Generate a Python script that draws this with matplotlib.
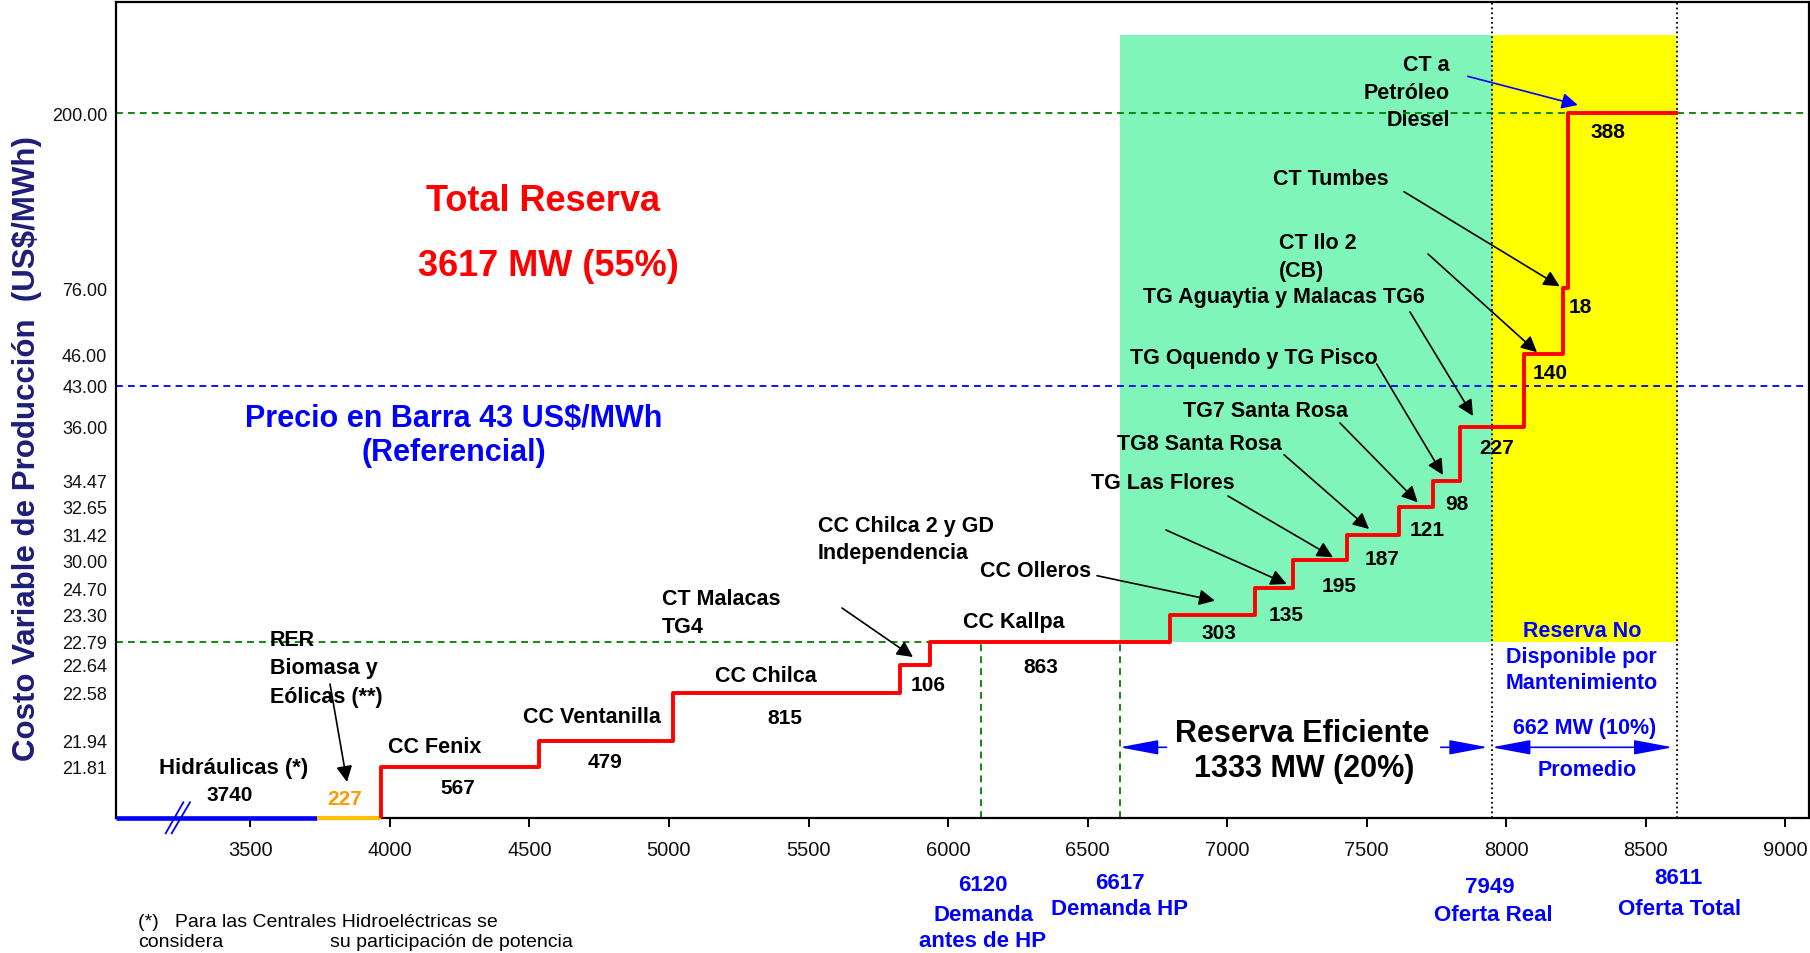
import numpy as np
import matplotlib.pyplot as plt
from matplotlib.lines import Line2D

plt.rcParams['font.family'] = ['Liberation Sans', 'DejaVu Sans']

# ---- data ----
hydro_mw = 3740
rer_mw = 227
plants = ['CC Fenix', 'CC Ventanilla', 'CC Chilca', 'CT Malacas TG4', 'CC Kallpa',
          'CC Olleros', 'CC Chilca 2 y GD Independencia', 'TG Las Flores',
          'TG8 Santa Rosa', 'TG7 Santa Rosa', 'TG Oquendo y TG Pisco',
          'TG Aguaytia y Malacas TG6', 'CT Ilo 2 (CB)', 'CT Tumbes',
          'CT a Petróleo Diesel']
capacity = [567, 479, 815, 106, 863, 303, 135, 195, 187, 121, 98, 227, 140, 18, 388]
cost = [21.81, 21.94, 22.58, 22.64, 22.79, 23.30, 24.70, 30.00, 31.42, 32.65,
        34.47, 36.00, 46.00, 76.00, 200.00]
price_bar = 43.00
demand_before_hp = 6120
demand_hp = 6617
real_supply = 7949
total_supply = 8611
ytick_vals = [200.00, 76.00, 46.00, 43.00, 36.00, 34.47, 32.65, 31.42, 30.00,
              24.70, 23.30, 22.79, 22.64, 22.58, 21.94, 21.81]
xticks = np.arange(3500, 9001, 500)

# ---- custom (non-linear) cost axis, as in the original chart ----
scale_vals = [0, 21.81, 21.94, 22.58, 22.64, 22.79, 23.30, 24.70, 30.00, 31.42,
              32.65, 34.47, 36.00, 43.00, 46.00, 76.00, 200.00, 260, 300]
scale_pos = [0, 51.5, 77.3, 125.5, 153.3, 176.5, 203.5, 230, 258, 283.5,
             311.3, 337.3, 391.3, 432.3, 464, 529.7, 704.7, 783, 816]
region_top = 260
xmin, xmax = 3017, 9084

W, H = 1810, 954
fig = plt.figure(figsize=(W / 100, H / 100), dpi=100)
ax = fig.add_axes([115.7 / W, (H - 819) / H, (1808.5 - 115.7) / W, 816 / H])

fwd = lambda v: np.interp(v, scale_vals, scale_pos)
inv = lambda p: np.interp(p, scale_pos, scale_vals)
ax.set_yscale('function', functions=(fwd, inv))
ax.set_xlim(xmin, xmax)
ax.set_ylim(0, 300)

# reserve regions
ax.fill_between([demand_hp, real_supply], cost[4], region_top, color='#80F5B9', lw=0, zorder=1)
ax.fill_between([real_supply, total_supply], cost[4], region_top, color='#FFFF00', lw=0, zorder=1)

dash = (0, (3.8, 2.8))
ax.axhline(cost[-1], color='#008000', ls=dash, lw=1.3, zorder=2)
ax.axhline(price_bar, color='#0000FF', ls=dash, lw=1.3, zorder=2)
ax.hlines(cost[4], xmin, demand_before_hp + 40, color='#008000', ls=dash, lw=1.3, zorder=2)
ax.vlines([demand_before_hp, demand_hp], 0, cost[4], color='#008000', ls=dash, lw=1.3, zorder=2)
ax.axvline(real_supply, color='black', ls=':', lw=1.3, zorder=3)
ax.axvline(total_supply, color='black', ls=':', lw=1.3, zorder=3)

# supply curve
start = hydro_mw + rer_mw
starts = start + np.concatenate([[0], np.cumsum(capacity)[:-1]])
end = start + sum(capacity)
x_step = np.concatenate([[start], starts, [end]])
y_step = np.concatenate([[0], cost, [cost[-1]]])
ax.plot([max(0, xmin), hydro_mw], [0, 0], color='#0000FF', lw=3.3, clip_on=False, zorder=6,
        solid_capstyle='butt')
ax.plot([hydro_mw, start], [0, 0], color='#FFC000', lw=3, clip_on=False, zorder=6,
        solid_capstyle='butt')
ax.plot(x_step, y_step, drawstyle='steps-post', color='#FF0000', lw=2.8, zorder=7)

# axes styling
for s in ax.spines.values():
    s.set_linewidth(1.6)
ax.set_xticks(xticks)
ax.set_xticklabels([str(v) for v in xticks])
ax.tick_params(axis='x', direction='out', length=6.5, width=1.4, pad=9.5, labelsize=14.5,
               labelcolor='#111111')
ax.set_yticks(ytick_vals)
ax.set_yticklabels(['%.2f' % v for v in ytick_vals])
ax.yaxis.set_minor_locator(plt.NullLocator())
ax.tick_params(axis='y', length=0, pad=6, labelsize=13, labelcolor='#111111')

fig.text(27.5 / W, 1 - 449 / H, 'Costo Variable de Producción  (US$/MWh)', rotation=90,
         ha='center', va='center', fontsize=22.5, fontweight='bold', color='#1E1E78')


def put(x, y, s, size=15.5, color='black', ha='center', weight='bold'):
    em = size * 100 / 72
    fig.text(x / W, 1 - (y + 0.358 * em) / H, s, fontsize=size, color=color, ha=ha,
             va='baseline', fontweight=weight)


def arrow(p0, p1, color='black', style='-|>', lw=1.2, ms=16, hl=0.6, hw=0.3):
    ax.annotate('', xy=(p1[0], H - p1[1]), xytext=(p0[0], H - p0[1]),
                xycoords='figure pixels', textcoords='figure pixels',
                arrowprops=dict(arrowstyle='%s,head_length=%s,head_width=%s' % (style, hl, hw),
                                color=color, lw=lw, mutation_scale=ms, shrinkA=0, shrinkB=0))


# plant names and capacities
put(233.5, 765.7, 'Hidráulicas (*)', 16)
put(230, 794, str(hydro_mw), 15)
put(345, 798, str(rer_mw), 15, color='#FF9900')
for i, line in enumerate(['RER', 'Biomasa y', 'Eólicas (**)']):
    put(270, 638 + i * 28.5, line, 15.5, ha='left')
put(388, 745.7, 'CC Fenix', ha='left')
put(591.5, 715, 'CC Ventanilla')
put(766, 674, 'CC Chilca')
put(662, 597, 'CT Malacas', ha='left')
put(662, 625.7, 'TG4', ha='left')
put(818, 524, 'CC Chilca 2 y GD', ha='left')
put(818, 551.7, 'Independencia', ha='left')
put(980, 569, 'CC Olleros', ha='left')
put(1014, 620, 'CC Kallpa')
put(1235, 481, 'TG Las Flores', ha='right')
put(1199, 442.7, 'TG8 Santa Rosa')
put(1265, 409.3, 'TG7 Santa Rosa')
put(1254, 356, 'TG Oquendo y TG Pisco')
put(1284, 295.7, 'TG Aguaytia y Malacas TG6')
put(1279, 241.7, 'CT Ilo 2', ha='left')
put(1279, 269.3, '(CB)', ha='left')
put(1331, 177.7, 'CT Tumbes')
for i, line in enumerate(['CT a', 'Petróleo', 'Diesel']):
    put(1450, 63.3 + i * 27.5, line, ha='right')

cap_pos = [(458, 786.7), (605, 761), (785, 716.7), (928.6, 684), (1040.6, 665.7),
           (1219, 631.7), (1286, 613.3), (1339, 584.3), (1381.7, 557.3), (1426.7, 529),
           (1456.7, 502.3), (1496.7, 446.7), (1550, 371.7), (1580, 306), (1608, 130.7)]
for (px, py), c in zip(cap_pos, capacity):
    put(px, py, str(c), 15)

# arrows to steps
arrow((330, 685), (347, 783))
arrow((842, 609), (913, 658))
arrow((1097, 576.7), (1215, 601.7))
arrow((1166, 531), (1286.7, 585))
arrow((1228, 497), (1333, 558.3))
arrow((1284, 455.7), (1369, 530))
arrow((1340, 424), (1417.7, 503.3))
arrow((1376.7, 365), (1443, 476))
arrow((1410, 313), (1473, 417))
arrow((1428, 255), (1537, 353.3))
arrow((1404, 192.7), (1559.7, 287.3))
arrow((1467.7, 77.3), (1577.8, 106), color='#0000FF')

# big annotations
put(543, 198, 'Total Reserva', 26, color='#FF0000')
put(548, 263, '3617 MW (55%)', 26, color='#FF0000')
put(454, 416, 'Precio en Barra 43 US$/MWh', 22, color='#0000FF')
put(454, 450, '(Referencial)', 22, color='#0000FF')
put(1302.5, 730.7, 'Reserva Eficiente', 22)
put(1304, 766, '1333 MW (20%)', 22)
for i, line in enumerate(['Reserva No', 'Disponible por', 'Mantenimiento']):
    put(1581.7, 629.3 + i * 26.2, line, 15.5, color='#0000FF')
put(1585, 726.7, '662 MW (10%)', 15.5, color='#0000FF')
put(1586.7, 768.3, 'Promedio', 15.5, color='#0000FF')
arrow((1166.5, 748.3), (1119.6, 748.3), color='#0000FF', ms=10, hl=2.4, hw=0.45)
arrow((1440.7, 748.3), (1488, 748.3), color='#0000FF', ms=10, hl=2.4, hw=0.45)
arrow((1491.7, 748.3), (1672.7, 748.3), color='#0000FF', style='<|-|>', ms=10, hl=2.4, hw=0.45)

# markers under the x axis
put(983, 883, str(demand_before_hp), 16, color='#0000FF')
put(983, 913, 'Demanda', 16, color='#0000FF')
put(983, 939, 'antes de HP', 16, color='#0000FF')
put(1119.6, 880.7, str(demand_hp), 16, color='#0000FF')
put(1119.6, 906.7, 'Demanda HP', 16, color='#0000FF')
put(1490, 885, str(real_supply), 16, color='#0000FF')
put(1493, 913.3, 'Oferta Real', 16, color='#0000FF')
put(1678, 876, str(total_supply), 16, color='#0000FF')
put(1680, 906.7, 'Oferta Total', 16, color='#0000FF')

# axis break marks
for x0, x1 in [(165.7, 183.3), (171.7, 190)]:
    fig.add_artist(Line2D([x0 / W, x1 / W], [1 - 834.3 / H, 1 - 803.3 / H],
                          transform=fig.transFigure, color='#0000FF', lw=1.3))

# footnote
put(138.3, 920, '(*)   Para las Centrales Hidroeléctricas se', 14, weight='normal', ha='left')
put(138.3, 940, 'considera', 14, weight='normal', ha='left')
put(330, 940, 'su participación de potencia', 14, weight='normal', ha='left')

fig.savefig('out.png', dpi=100)
